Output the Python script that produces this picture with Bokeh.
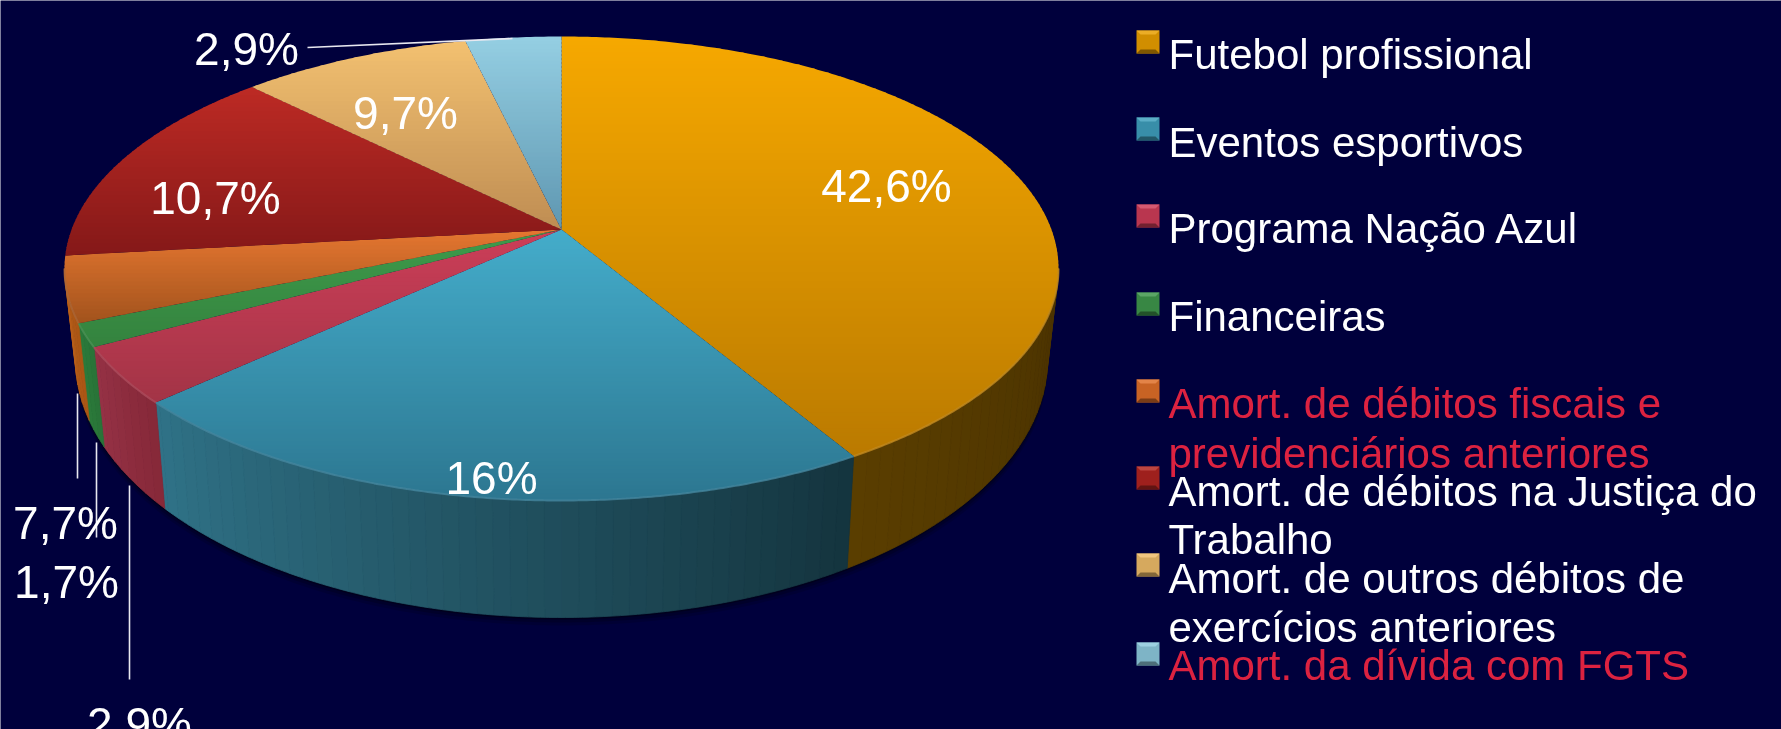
import numpy as np
from bokeh.plotting import figure
from bokeh.models import Range1d
from bokeh.embed import file_html
from bokeh.resources import INLINE
from bokeh.core.properties import value

# ---- data ----
categories = ["Futebol profissional", "Eventos esportivos", "Programa Nação Azul", "Financeiras",
              "Amort. de débitos fiscais e\nprevidenciários anteriores",
              "Amort. de débitos  na Justiça do\nTrabalho",
              "Amort. de outros débitos de\nexercícios anteriores",
              "Amort. da dívida com FGTS"]
value_labels = ["42,6%", "16%", "2,9%", "1,7%", "7,7%", "10,7%", "9,7%", "2,9%"]
# share of the round drawn for each slice
drawn_shares = [40.0, 25.2, 4.3, 1.7, 4.7, 13.4, 7.6, 3.1]

# ---- styles ----
BG = "#00003c"
top_hi = [(246,168,0),(68,172,202),(204,62,88),(62,155,75),(228,118,48),(188,42,36),(242,192,112),(148,206,226)]
top_lo = [(186,122,0),(44,118,144),(162,52,70),(52,130,62),(160,82,28),(132,24,24),(190,140,82),(94,150,176)]
side_a = [(74,50,0),(20,52,62),(134,40,56),(40,115,55),(170,85,20)]      # right end of the side
side_b = [(90,62,0),(48,115,136),(150,50,70),(45,125,60),(185,95,25)]    # left end of the side
legend_txt = ["white","white","white","white","#dc2240","white","white","#dc2240"]
legend_sq = [(232,158,0),(62,158,188),(206,60,88),(62,150,75),(222,110,40),(176,36,32),(238,188,104),(140,200,220)]
legend_sq_y = [30,117,204,292,379,466,553,642]
legend_base = [[54],[142],[228],[316],[403,453],[491,539],[578,627],[665]]
CX, APEX_Y, TOP_CY, RX, RY = 561, 229, 268, 497, 232
BOT_CY, BOT_RX, BOT_RY = 359, 486, 258

def arc(a0, a1, cy, rx, ry, step=1.0):
    n = max(2, int(abs(a1-a0)/step)+1)
    t = np.radians(np.linspace(a0, a1, n))
    return CX + rx*np.sin(t), cy - ry*np.cos(t)

def clip(pts, ymin, ymax):
    def half(pts, keep, cross):
        out = []
        for i in range(len(pts)):
            p, q = pts[i], pts[(i+1) % len(pts)]
            if keep(p): out.append(p)
            if keep(p) != keep(q): out.append(cross(p, q))
        return out
    def at(y):
        return lambda p, q: (p[0]+(q[0]-p[0])*(y-p[1])/(q[1]-p[1]), y)
    pts = half(pts, lambda p: p[1] >= ymin, at(ymin))
    if pts: pts = half(pts, lambda p: p[1] <= ymax, at(ymax))
    return pts

def mix(c0, c1, t):
    return "#%02x%02x%02x" % tuple(int(round(a+(b-a)*t)) for a, b in zip(c0, c1))

p = figure(width=1781, height=729, x_range=Range1d(0, 1781), y_range=Range1d(729, 0),
           output_backend="svg", toolbar_location=None, min_border=0,
           background_fill_color=BG, border_fill_color=BG, outline_line_color=None)
p.axis.visible = False
p.grid.visible = False
p.styles = {"position": "fixed", "left": "0", "top": "0"}

edges = np.concatenate([[0], np.cumsum(drawn_shares)]) / sum(drawn_shares) * 360

# soft shadow under the pie
for grow, alpha in [(8, .12), (5, .18), (2, .3)]:
    sx, sy = arc(90, 270, BOT_CY+grow, BOT_RX, BOT_RY)
    p.patch(list(sx)+[CX], list(sy)+[BOT_CY], fill_color="black", fill_alpha=alpha, line_color=None)

# side wall
xs, ys, cs = [], [], []
for i in range(len(side_a)):
    a0, a1 = max(edges[i], 90), min(edges[i+1], 270)
    grid = np.arange(a0, a1, 2.0)
    grid = np.append(grid, a1)
    for j in range(len(grid)-1):
        tx, ty = arc(grid[j], grid[j+1], TOP_CY, RX, RY, .5)
        bx, by = arc(grid[j], grid[j+1], BOT_CY, BOT_RX, BOT_RY, .5)
        xs.append(list(tx)+list(bx[::-1])); ys.append(list(ty)+list(by[::-1]))
        cs.append(mix(side_a[i], side_b[i], (j+.5)/(len(grid)-1)))
p.patches(xs, ys, fill_color=cs, line_color=cs, line_width=.8)

# top face: each wedge filled in thin horizontal bands
BAND = 4
for i in range(len(drawn_shares)):
    ax, ay = arc(edges[i], edges[i+1], TOP_CY, RX, RY, .5)
    poly = [(CX, APEX_Y)] + list(zip(ax, ay))
    y0 = min(q[1] for q in poly); y1 = max(q[1] for q in poly)
    bx, by, bc = [], [], []
    y = y0
    while y < y1:
        c = clip(poly, y, y+BAND+1)
        if len(c) > 2:
            bx.append([q[0] for q in c]); by.append([q[1] for q in c])
            bc.append(mix(top_hi[i], top_lo[i], (y-y0)/max(1, y1-y0)))
        y += BAND
    p.patches(bx, by, fill_color=bc, line_color=None)

# lighter rim on the front edge
for i in range(len(side_a)):
    a0, a1 = max(edges[i], 90), min(edges[i+1], 270)
    rx_, ry_ = arc(a0, a1, TOP_CY, RX, RY, .5)
    p.line(rx_, ry_, line_color=mix(top_lo[i], (255,255,255), .12), line_width=2, line_alpha=.8)

# leader lines
lead_x0 = [77, 96, 129, 307]
lead_y0 = [393, 442, 485, 47]
lead_x1 = [77, 96, 129, 512]
lead_y1 = [478, 537, 679, 38]
p.segment(lead_x0, lead_y0, lead_x1, lead_y1, line_color="#e8e8f0", line_width=1.6)

# value labels
lab_x = [886, 491, 139, 66, 65, 215, 405, 246]
lab_y = [185, 477, 723, 581, 522, 197, 112, 48]
p.text(lab_x, lab_y, text=value_labels, text_color="white", text_align="center",
       text_baseline="alphabetic", text_font=value("Liberation Sans"), text_font_size=value("46px"))

# legend
S = 23
for sq, y0, col, base, name in zip(legend_sq, legend_sq_y, legend_txt, legend_base, categories):
    x0 = 1136
    e = 4
    p.patch([x0, x0+S, x0+S, x0], [y0, y0, y0+S, y0+S], fill_color=mix(sq, (0,0,0), .1), line_color=None)
    p.patch([x0, x0+S, x0+S-e, x0+e], [y0, y0, y0+e, y0+e], fill_color=mix(sq, (255,255,255), .15), line_color=None)
    p.patch([x0, x0+S, x0+S-e, x0+e], [y0+S, y0+S, y0+S-e, y0+S-e], fill_color=mix(sq, (0,0,0), .45), line_color=None)
    lines = name.split("\n")
    p.text([1168]*len(lines), base, text=lines, text_color=col, text_align="left",
           text_baseline="alphabetic", text_font=value("Liberation Sans"), text_font_size=value("42px"))

open("out.html", "w").write(file_html(p, INLINE))
